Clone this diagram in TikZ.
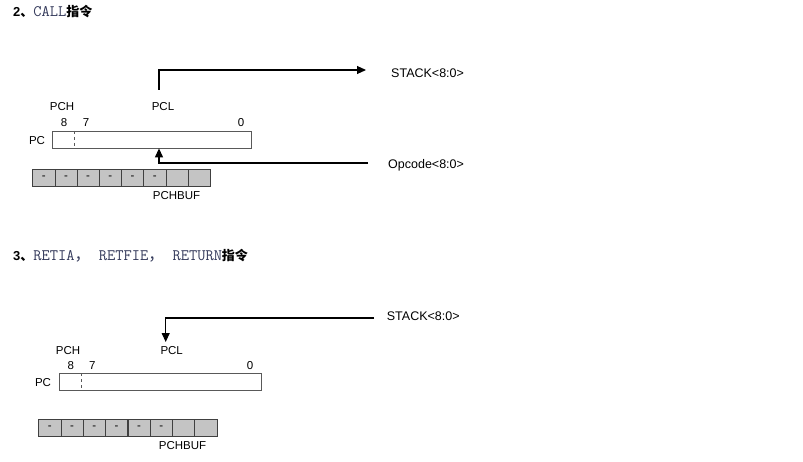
\documentclass[tikz,border=0pt]{standalone}
\usepackage{fontspec}
\usepackage{xcolor}
\usepackage{tikz}
\usetikzlibrary{arrows.meta}
\setmainfont{Liberation Sans}
\newfontfamily\cjk{Noto Sans CJK SC}
\definecolor{cellgray}{HTML}{C4C4C4}
\definecolor{codeblue}{HTML}{33395A}

\begin{document}
\begin{tikzpicture}[x=1pt,y=-1pt,every node/.style={inner sep=0pt,font=\fontsize{11.5}{13}\selectfont},reg/.style={draw=black!65,line width=0.7pt,minimum height=16.7pt,anchor=north west},cell/.style={draw=black!75,fill=cellgray,line width=0.7pt,minimum width=22.2pt,minimum height=16.7pt,anchor=north west},title/.style={anchor=west,font=\fontsize{13}{14}\selectfont},arrow/.style={-{Triangle[length=9pt,width=8pt]},line width=1.1pt}]
\useasboundingbox (0,0) rectangle (803,462);
% CALL
\node[title] (call) at (13,12) {\bfseries 2{\cjk 、}\mdseries{\fontsize{16}{14}\ttfamily\color{codeblue}CALL}{\cjk\bfseries 指令}};
\node[reg,minimum width=199pt] (pca) at (52,131) {};
\draw[dashed,black!65,line width=0.6pt] ([xshift=22pt]pca.north west) -- ([xshift=22pt]pca.south west);
\node (pclbla) at (37,140.5) {PC};
\node (pcha) at (62,107) {PCH};
\node (pcla) at (163,107) {PCL};
\node (bit8a) at (64,123) {8}; \node (bit7a) at (86,123) {7}; \node (bit0a) at (241,123) {0};
\foreach \i in {0,...,7} {\node[cell] (bufa\i) at (32.3+22.2*\i,169) {\ifnum\i<6 -\fi};}
\node (pchbufa) at (176.5,196) {PCHBUF};
\node[anchor=west,font=\fontsize{12.5}{14}\selectfont] (stacka) at (391,73) {STACK<8:0>};
\node[anchor=west,font=\fontsize{12.5}{14}\selectfont] (opcode) at (388,165) {Opcode<8:0>};
\coordinate (upa) at (159,90);
\draw[arrow] (upa) |- ([xshift=-25pt,yshift=3pt]stacka.west);
\draw[arrow] ([xshift=-20pt,yshift=2pt]opcode.west) -| (pca.south -| upa);
% RETIA / RETFIE / RETURN
\node[title] (ret) at (13,256) {\bfseries 3{\cjk 、}\mdseries{\fontsize{16}{14}\ttfamily\color{codeblue}RETIA{\cjk ，} RETFIE{\cjk ，} RETURN}{\cjk\bfseries 指令}};
\node[reg,minimum width=201.7pt] (pcb) at (59,373.3) {};
\draw[dashed,black!65,line width=0.6pt] ([xshift=22.7pt]pcb.north west) -- ([xshift=22.7pt]pcb.south west);
\node (pclblb) at (43,382.5) {PC};
\node (pchb) at (68,351) {PCH};
\node (pclb) at (171.7,351) {PCL};
\node (bit8b) at (70.7,366) {8}; \node (bit7b) at (92.3,366) {7}; \node (bit0b) at (250,366) {0};
\foreach \i in {0,...,7} {\node[cell] (bufb\i) at (38.3+22.3*\i,419.3) {\ifnum\i<6 -\fi};}
\node (pchbufb) at (182.5,446) {PCHBUF};
\node[anchor=west,font=\fontsize{12.5}{14}\selectfont] (stackb) at (386.7,316) {STACK<8:0>};
\coordinate (downb) at (165.7,342);
\draw[arrow] ([xshift=-12.7pt,yshift=-2pt]stackb.west) -| (downb);
\end{tikzpicture}
\end{document}
